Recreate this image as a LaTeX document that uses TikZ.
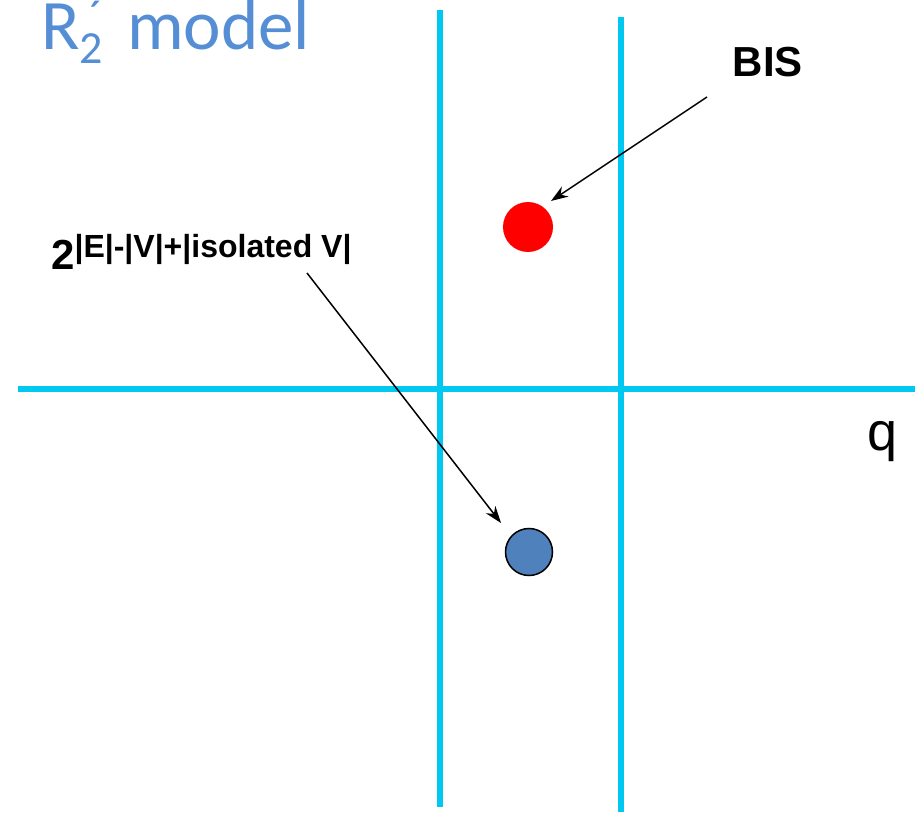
\documentclass[tikz,border=0pt]{standalone}
\usepackage{fontspec}
\setmainfont{Liberation Sans}
\newfontfamily\titlefont{Carlito}
\usetikzlibrary{arrows.meta}
\definecolor{axiscol}{RGB}{0,200,240}
\definecolor{titlecol}{RGB}{85,142,213}
\definecolor{dotblue}{RGB}{79,129,189}
\tikzset{
  axis/.style={draw=axiscol,line width=6pt},
  pointer/.style={draw=black,line width=1.5pt,-{Stealth[length=17pt,width=12pt]}},
  lbl/.style={inner sep=0pt,font=\bfseries},
}
\begin{document}
\begin{tikzpicture}[x=1pt,y=-1pt]
\useasboundingbox (0,0) rectangle (922,813);
% axes
\coordinate (hl) at (18,389); \coordinate (hr) at (915,389);
\coordinate (v1t) at (440,10); \coordinate (v1b) at (440,807);
\coordinate (v2t) at (621,17); \coordinate (v2b) at (621,812);
\draw[axis] (hl) -- (hr);
\draw[axis] (v1t) -- (v1b);
\draw[axis] (v2t) -- (v2b);
% dots
\node[circle,fill=red,minimum size=50pt,inner sep=0pt] (red) at (528,227) {};
\node[circle,fill=dotblue,draw=black,line width=1.5pt,minimum size=47pt,inner sep=0pt] (blue) at (529,552) {};
% labels
\node[anchor=base west,inner sep=0pt,text=titlecol,font=\titlefont\fontsize{71}{80}\selectfont] (title) at (41,50) {R\raisebox{-14pt}{\fontsize{46}{50}\selectfont 2}\llap{\raisebox{17pt}{\fontsize{46}{50}\selectfont ´}}\hspace{24pt}model};
\node[lbl,anchor=base,font=\bfseries\fontsize{42}{48}\selectfont] (bis) at (768,77) {BIS};
\node[lbl,anchor=base west,font=\bfseries\fontsize{42}{48}\selectfont] (two) at (51,270) {2\raisebox{12pt}{\fontsize{32}{36}\selectfont |E|-|V|+|isolated V|}};
\node[anchor=base,inner sep=0pt,font=\fontsize{54}{60}\selectfont] (q) at (883,450) {q};
% arrows
\coordinate (bisfrom) at (707,97);
\coordinate (bisto) at (551,201);
\coordinate (twofrom) at (307,273);
\coordinate (twoto) at (501,523);
\draw[pointer] (bisfrom) -- (bisto);
\draw[pointer] (twofrom) -- (twoto);
\end{tikzpicture}
\end{document}
